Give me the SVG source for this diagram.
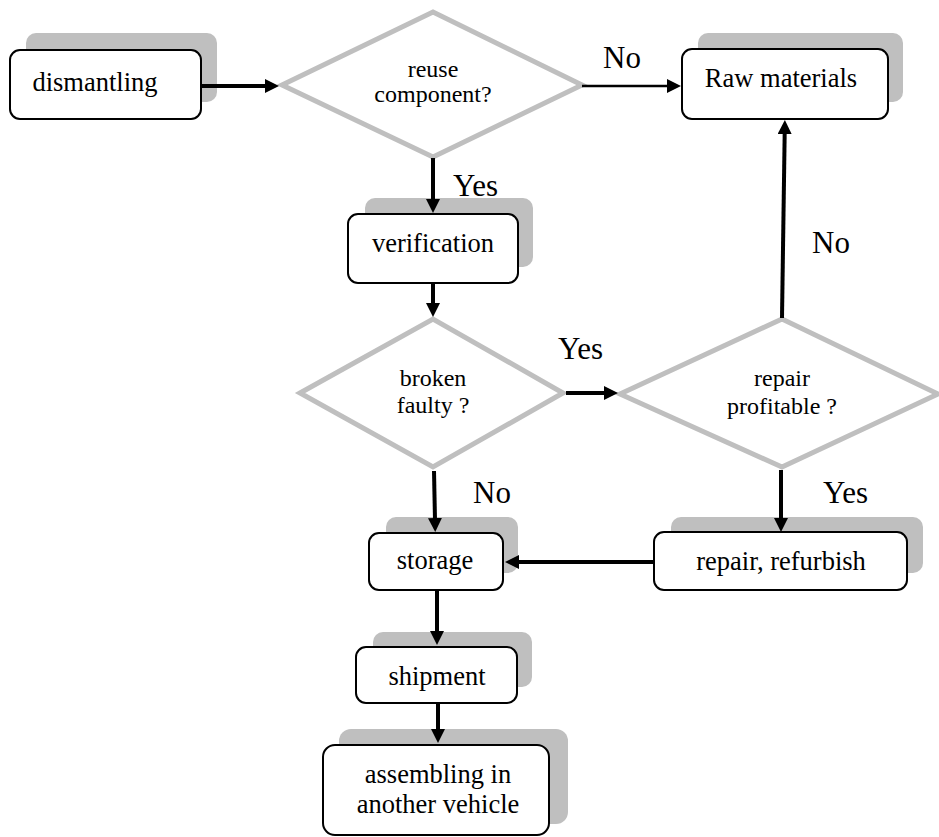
<svg xmlns="http://www.w3.org/2000/svg" width="939" height="837" viewBox="0 0 939 837">
<style>
.sh{fill:#bfbfbf;stroke:none}
.bx{fill:#fff;stroke:#000;stroke-width:2}
.dm{fill:#fff;stroke:#bfbfbf;stroke-width:5;stroke-linejoin:miter}
.t{font-family:"Liberation Serif","Times New Roman",serif;font-size:26.5px;fill:#000;text-anchor:middle}
.dt{font-family:"Liberation Serif","Times New Roman",serif;font-size:24px;fill:#000;text-anchor:middle}
.lb{font-family:"Liberation Serif","Times New Roman",serif;font-size:31px;fill:#000}
.c{fill:none;stroke:#000;stroke-width:4;marker-end:url(#arr)}
</style>
<defs>
<marker id="arr" markerUnits="userSpaceOnUse" markerWidth="15" markerHeight="14" refX="2" refY="7" orient="auto">
<path d="M0,0 L14,7 L0,14 z" fill="#000"/>
</marker>
</defs>
<rect width="939" height="837" fill="#fff"/>
<g id="dismantling">
<rect class="sh" x="26" y="33" width="191" height="69" rx="10"/>
<rect class="bx" x="10" y="50" width="191" height="69" rx="10"/>
<text class="t" x="95" y="91">dismantling</text>
</g>
<g id="reuse">
<polygon class="dm" points="282,85 433,12 582,85 433,157"/>
<text class="dt" x="433" y="77">reuse</text>
<text class="dt" x="433" y="102">component?</text>
</g>
<g id="raw">
<rect class="sh" x="698" y="33" width="205" height="69" rx="10"/>
<rect class="bx" x="682" y="49" width="206" height="70" rx="10"/>
<text class="t" x="781" y="87">Raw materials</text>
</g>
<g id="verification">
<rect class="sh" x="365" y="198" width="168" height="69" rx="10"/>
<rect class="bx" x="348" y="214" width="170" height="69" rx="10"/>
<text class="t" x="433" y="252">verification</text>
</g>
<g id="broken">
<polygon class="dm" points="300,393 433,319 563,393 433,467"/>
<text class="dt" x="433" y="386">broken</text>
<text class="dt" x="433" y="413">faulty ?</text>
</g>
<g id="repairq">
<polygon class="dm" points="620,394 782,319 938,394 782,467"/>
<text class="dt" x="782" y="386">repair</text>
<text class="dt" x="782" y="414">profitable ?</text>
</g>
<g id="storage">
<rect class="sh" x="386" y="517" width="132" height="56" rx="10"/>
<rect class="bx" x="369" y="533" width="134" height="57" rx="10"/>
<text class="t" x="435" y="569">storage</text>
</g>
<g id="refurbish">
<rect class="sh" x="671" y="517" width="252" height="56" rx="10"/>
<rect class="bx" x="654" y="532" width="253" height="58" rx="10"/>
<text class="t" x="781" y="570">repair, refurbish</text>
</g>
<g id="shipment">
<rect class="sh" x="373" y="632" width="159" height="55" rx="10"/>
<rect class="bx" x="356" y="647" width="161" height="56" rx="10"/>
<text class="t" x="437" y="685">shipment</text>
</g>
<g id="assembling">
<rect class="sh" x="339" y="729" width="229" height="95" rx="12"/>
<rect class="bx" x="323" y="745" width="226" height="90" rx="12"/>
<text class="t" x="438" y="783">assembling in</text>
<text class="t" x="438" y="813">another vehicle</text>
</g>
<g id="connectors">
<path class="c" d="M201,86 H267"/>
<path class="c" d="M582,86 H669" style="stroke-width:2.5"/>
<path class="c" d="M433,158 V201"/>
<path class="c" d="M433,283 V305"/>
<path class="c" d="M566,393 H606"/>
<path class="c" d="M782,318 L784.7,132"/>
<path class="c" d="M781,470 V520"/>
<path class="c" d="M654,562 H517"/>
<path class="c" d="M434,471 L435,520"/>
<path class="c" d="M437,590 V633"/>
<path class="c" d="M438,703 V731"/>
</g>
<g id="labels">
<text class="lb" x="603" y="68">No</text>
<text class="lb" x="453" y="196">Yes</text>
<text class="lb" x="812" y="253">No</text>
<text class="lb" x="558" y="359">Yes</text>
<text class="lb" x="473" y="503">No</text>
<text class="lb" x="823" y="503">Yes</text>
</g>
</svg>
